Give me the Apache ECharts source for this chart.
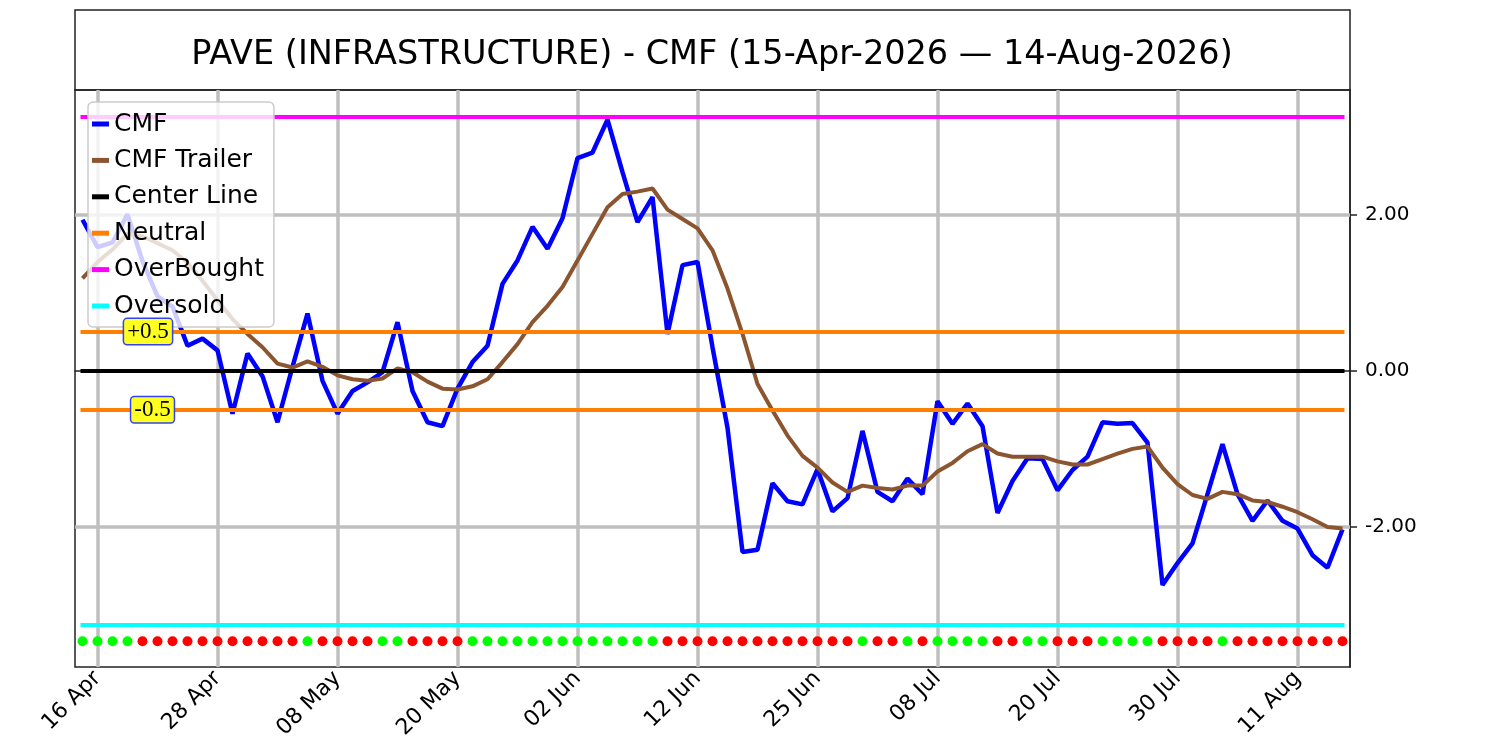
<!DOCTYPE html>
<html>
<head>
<meta charset="utf-8">
<script src="https://cdn.jsdelivr.net/npm/echarts@6/dist/echarts.min.js"></script>
<style>
  html, body { margin: 0; padding: 0; background: #fff; }
  #chart { width: 1500px; height: 750px; }
</style>
</head>
<body>
<div id="chart"></div>
<script>
// trading days 15 Apr -> 14 Aug 2026
const dates = [
  '15 Apr','16 Apr','17 Apr','20 Apr','21 Apr','22 Apr','23 Apr','24 Apr','27 Apr','28 Apr','29 Apr','30 Apr',
  '01 May','04 May','05 May','06 May','07 May','08 May','11 May','12 May','13 May','14 May','15 May','18 May',
  '19 May','20 May','21 May','22 May','26 May','27 May','28 May','29 May',
  '01 Jun','02 Jun','03 Jun','04 Jun','05 Jun','08 Jun','09 Jun','10 Jun','11 Jun','12 Jun','15 Jun','16 Jun',
  '17 Jun','18 Jun','22 Jun','23 Jun','24 Jun','25 Jun','26 Jun','29 Jun','30 Jun',
  '01 Jul','02 Jul','06 Jul','07 Jul','08 Jul','09 Jul','10 Jul','13 Jul','14 Jul','15 Jul','16 Jul','17 Jul',
  '20 Jul','21 Jul','22 Jul','23 Jul','24 Jul','27 Jul','28 Jul','29 Jul','30 Jul','31 Jul',
  '03 Aug','04 Aug','05 Aug','06 Aug','07 Aug','10 Aug','11 Aug','12 Aug','13 Aug','14 Aug'
];

const tickDates = ['16 Apr','28 Apr','08 May','20 May','02 Jun','12 Jun','25 Jun','08 Jul','20 Jul','30 Jul','11 Aug'];

const cmf = [
  1.93, 1.58, 1.64, 2.00, 1.40, 0.95, 0.82, 0.32, 0.41, 0.26,
  -0.55, 0.22, -0.07, -0.66, 0.05, 0.73, -0.13, -0.55, -0.26, -0.15,
  -0.02, 0.62, -0.26, -0.66, -0.71, -0.23, 0.11, 0.32, 1.11, 1.41,
  1.84, 1.56, 1.95, 2.72, 2.79, 3.21, 2.54, 1.90, 2.22, 0.47,
  1.35, 1.39, 0.30, -0.73, -2.32, -2.29, -1.44, -1.67, -1.71, -1.26,
  -1.80, -1.63, -0.77, -1.55, -1.67, -1.38, -1.58, -0.39, -0.68, -0.42,
  -0.71, -1.82, -1.41, -1.12, -1.13, -1.53, -1.27, -1.10, -0.66, -0.68,
  -0.67, -0.92, -2.74, -2.46, -2.21, -1.58, -0.94, -1.58, -1.92, -1.66,
  -1.92, -2.02, -2.36, -2.52, -2.03
];

const trailer = [
  1.18, 1.39, 1.55, 1.75, 1.72, 1.63, 1.54, 1.38, 1.15, 0.90,
  0.66, 0.47, 0.30, 0.09, 0.04, 0.12, 0.05, -0.06, -0.11, -0.13,
  -0.10, 0.03, -0.02, -0.14, -0.23, -0.24, -0.20, -0.11, 0.11, 0.34,
  0.62, 0.83, 1.07, 1.41, 1.75, 2.09, 2.26, 2.29, 2.33, 2.06,
  1.94, 1.82, 1.54, 1.05, 0.47, -0.17, -0.51, -0.83, -1.09, -1.24,
  -1.43, -1.55, -1.47, -1.50, -1.52, -1.47, -1.47, -1.29, -1.18, -1.03,
  -0.94, -1.06, -1.10, -1.10, -1.10, -1.16, -1.20, -1.20, -1.13, -1.06,
  -1.00, -0.97, -1.24, -1.45, -1.59, -1.64, -1.55, -1.58, -1.66, -1.68,
  -1.74, -1.81, -1.90, -2.00, -2.02
];

// 1 = green dot, 0 = red dot
const signal = [
  1,1,1,1,0,0,0,0,0,0, 0,0,0,0,0,1,0,0,0,0,
  1,1,0,0,0,0,1,1,1,1, 1,1,1,1,1,1,1,1,1,0,
  0,0,0,0,0,0,0,0,0,0, 0,0,1,0,0,1,0,1,1,1,
  1,0,0,1,1,0,0,0,1,1, 1,1,0,0,0,0,1,0,0,0,
  0,0,0,0,0
];

const centerLevel = 0;
const neutralLevels = [0.5, -0.5];
const neutralLabels = ['+0.5', '-0.5'];
const overbought = 3.25;
const oversold = -3.25;
const dotLevel = -3.46;
const yTicks = [-2, 0, 2];
const gridY = [2, -2];

const FONT = 'DejaVu Sans';
const first = dates[0], last = dates[dates.length - 1];

function levelLine(v) {
  return [{ coord: [first, v] }, { coord: [last, v] }];
}

function refSeries(name, color, levels) {
  return {
    name: name,
    type: 'line',
    data: [],
    color: color,
    z: 3,
    lineStyle: { color: color, width: 4 },
    markLine: {
      z: 3,
      silent: true,
      symbol: ['none', 'none'],
      label: { show: false },
      emphasis: { disabled: true },
      lineStyle: { color: color, width: 4, type: 'solid', cap: 'square' },
      data: levels.map(levelLine)
    }
  };
}

const tickSet = new Set(tickDates);

const chart = echarts.init(document.getElementById('chart'));
chart.setOption({
  animation: false,
  textStyle: { fontFamily: FONT },
  title: {
    text: 'PAVE (INFRASTRUCTURE) - CMF (15-Apr-2026 — 14-Aug-2026)',
    left: 707,
    top: 50,
    textAlign: 'center',
    textVerticalAlign: 'middle',
    textStyle: { fontFamily: FONT, fontSize: 33.5, fontWeight: 'normal', color: '#000' }
  },
  graphic: [{
    type: 'rect',
    shape: { x: 75, y: 10, width: 1275, height: 80 },
    style: { fill: 'none', stroke: '#222', lineWidth: 1.5 },
    silent: true
  }],
  legend: {
    data: ['CMF', 'CMF Trailer', 'Center Line', 'Neutral', 'OverBought', 'Oversold'],
    orient: 'vertical',
    left: 88,
    top: 102,
    z: 20,
    icon: 'rect',
    itemWidth: 17,
    itemHeight: 5,
    itemGap: 10.4,
    padding: [9, 10, 8, 4],
    backgroundColor: 'rgba(255,255,255,0.8)',
    borderColor: '#cccccc',
    borderWidth: 1.5,
    borderRadius: 5,
    textStyle: { fontFamily: FONT, fontSize: 25, lineHeight: 26, color: '#000' },
    selectedMode: false
  },
  grid: {
    left: 75, right: 150, top: 90, bottom: 83,
    show: true, borderColor: '#222', borderWidth: 1.5,
    containLabel: false
  },
  xAxis: {
    type: 'category',
    data: dates,
    boundaryGap: true,
    axisLine: { show: true, lineStyle: { color: '#222', width: 1.5 } },
    axisTick: {
      show: true, alignWithLabel: true, length: 7,
      lineStyle: { color: '#222', width: 1.5 },
      interval: (i, v) => tickSet.has(v)
    },
    axisLabel: {
      rotate: 45, margin: 8, fontSize: 22, color: '#000', fontFamily: FONT,
      interval: (i, v) => tickSet.has(v)
    },
    splitLine: { show: false }
  },
  yAxis: {
    type: 'value',
    position: 'right',
    min: -3.79,
    max: 3.59,
    axisLine: { show: true, lineStyle: { color: '#222', width: 1.5 } },
    axisTick: { show: true, length: 7, customValues: yTicks, lineStyle: { color: '#222', width: 1.5 } },
    axisLabel: {
      customValues: yTicks, margin: 15, fontSize: 20, color: '#000', fontFamily: FONT,
      formatter: v => v.toFixed(2)
    },
    splitLine: { show: false }
  },
  series: [
    {
      name: 'gridlines',
      type: 'line',
      data: [],
      z: 1,
      markLine: {
        z: 1,
        silent: true,
        symbol: ['none', 'none'],
        label: { show: false },
        emphasis: { disabled: true },
        lineStyle: { color: '#bfbfbf', width: 3.5, type: 'solid' },
        data: tickDates.map(d => ({ xAxis: d })).concat(gridY.map(v => ({ yAxis: v })))
      }
    },
    {
      name: 'CMF',
      type: 'line',
      data: cmf,
      color: '#0000ff',
      showSymbol: false,
      symbol: 'none',
      lineStyle: { color: '#0000ff', width: 4.5 },
      z: 2
    },
    {
      name: 'CMF Trailer',
      type: 'line',
      data: trailer,
      color: '#8b5530',
      showSymbol: false,
      symbol: 'none',
      lineStyle: { color: '#8b5530', width: 4 },
      z: 2
    },
    refSeries('Center Line', '#000000', [centerLevel]),
    refSeries('Neutral', '#ff8000', neutralLevels),
    refSeries('OverBought', '#ff00ff', [overbought]),
    refSeries('Oversold', '#00ffff', [oversold]),
    {
      name: 'signals',
      type: 'scatter',
      symbol: 'circle',
      symbolSize: 10,
      z: 4,
      itemStyle: { opacity: 1 },
      data: signal.map((s, i) => ({
        value: [dates[i], dotLevel],
        itemStyle: { color: s ? '#00ff00' : '#ff0000', opacity: 1 }
      }))
    },
    {
      // neutral level annotations, drawn above the legend
      name: 'annotations',
      type: 'line',
      data: [],
      z: 30,
      markPoint: {
        z: 30,
        symbol: 'circle',
        symbolSize: 1,
        silent: true,
        itemStyle: { color: 'rgba(0,0,0,0)' },
        label: {
          show: true,
          position: 'inside',
          fontFamily: 'Liberation Serif',
          fontSize: 23,
          color: '#000',
          backgroundColor: '#ffff22',
          borderColor: '#3344ee',
          borderWidth: 1.5,
          borderRadius: 3,
          padding: [2, 3, 0, 3]
        },
        data: [
          { coord: [dates[4], neutralLevels[0]], value: neutralLabels[0], label: { formatter: neutralLabels[0], offset: [5.5, 0] } },
          { coord: [dates[4], neutralLevels[1]], value: neutralLabels[1], label: { formatter: neutralLabels[1], offset: [10, 0] } }
        ]
      }
    }
  ]
});
</script>
</body>
</html>
